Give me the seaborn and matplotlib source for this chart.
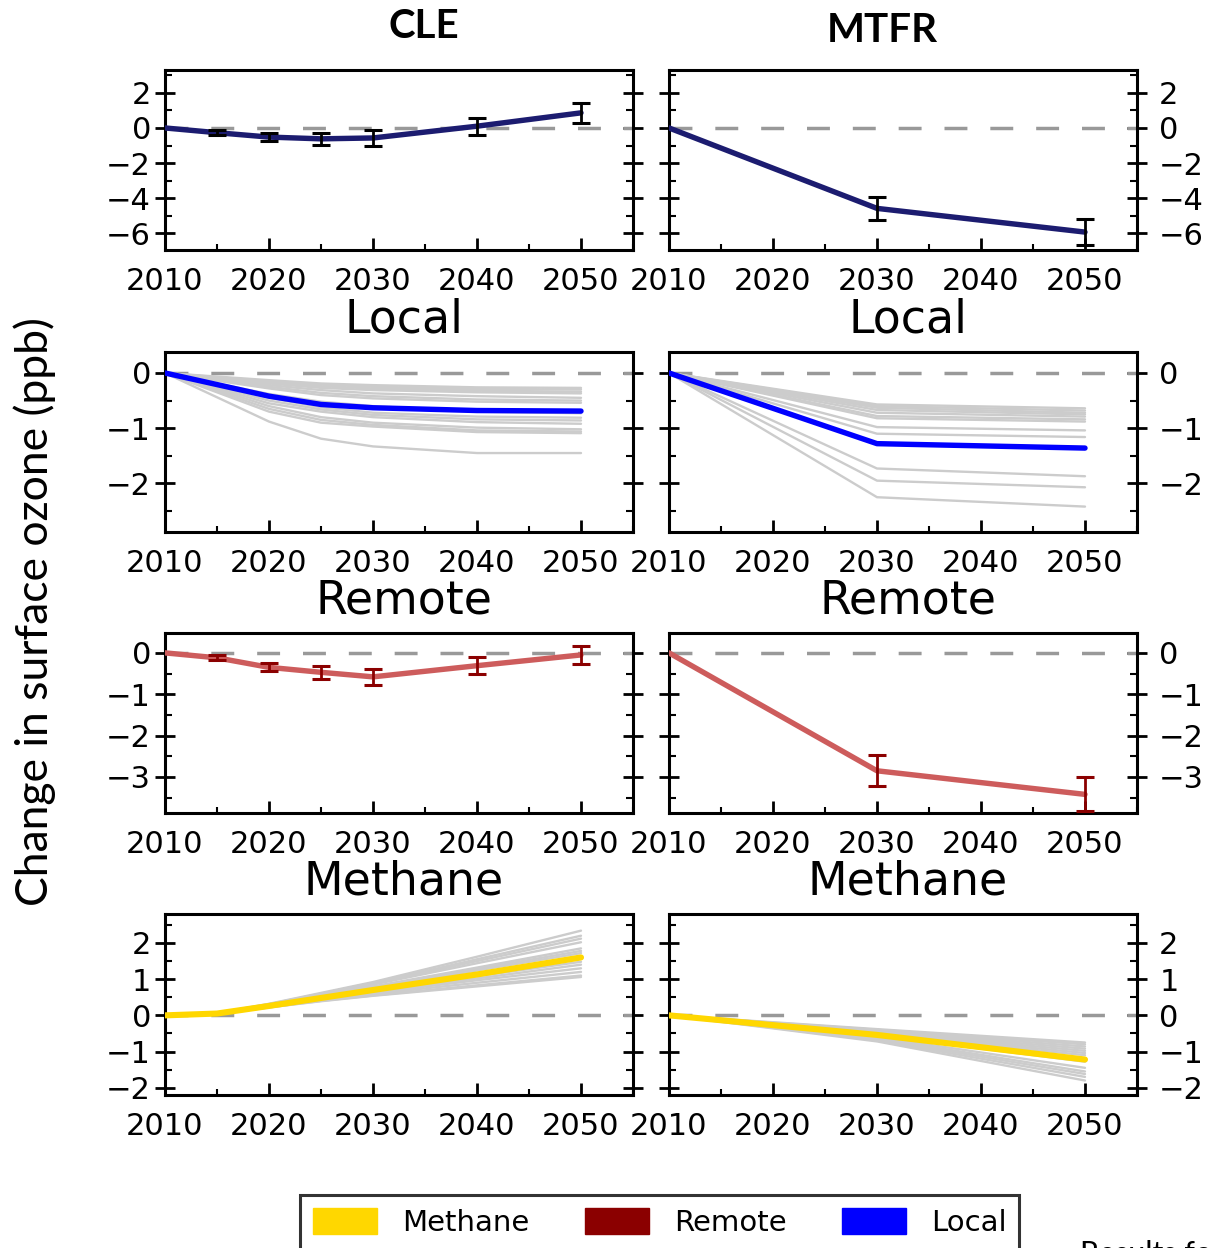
import numpy as np
import pandas as pd
import matplotlib
matplotlib.use("Agg")
import matplotlib.pyplot as plt
from matplotlib.ticker import MultipleLocator
from matplotlib.patches import Patch
import seaborn as sns

# ---------------- data ----------------
# Row 1: total change (CLE / MTFR)
cle_tot_years = [2010, 2015, 2020, 2025, 2030, 2040, 2050]
cle_tot_vals = [0.0, -0.27, -0.52, -0.62, -0.57, 0.10, 0.86]
cle_tot_err = [0.0, 0.15, 0.25, 0.36, 0.46, 0.48, 0.57]
mtfr_tot_years = [2010, 2030, 2050]
mtfr_tot_vals = [0.0, -4.58, -5.93]
mtfr_tot_err = [0.0, 0.67, 0.75]

# Row 2: Local
cle_loc_years = [2010, 2020, 2025, 2030, 2040, 2050]
cle_loc_vals = [0.0, -0.42, -0.57, -0.63, -0.68, -0.69]
cle_loc_members = [
    [0, -0.13, -0.19, -0.22, -0.26, -0.27],
    [0, -0.15, -0.21, -0.25, -0.29, -0.30],
    [0, -0.17, -0.24, -0.28, -0.32, -0.34],
    [0, -0.19, -0.27, -0.31, -0.35, -0.37],
    [0, -0.22, -0.31, -0.37, -0.42, -0.45],
    [0, -0.25, -0.36, -0.42, -0.48, -0.50],
    [0, -0.28, -0.40, -0.46, -0.52, -0.54],
    [0, -0.38, -0.52, -0.60, -0.70, -0.73],
    [0, -0.45, -0.62, -0.72, -0.79, -0.81],
    [0, -0.50, -0.66, -0.76, -0.84, -0.86],
    [0, -0.55, -0.70, -0.80, -0.89, -0.92],
    [0, -0.60, -0.80, -0.90, -0.99, -1.02],
    [0, -0.65, -0.85, -0.94, -1.04, -1.06],
    [0, -0.70, -0.90, -0.97, -1.07, -1.09],
    [0, -0.88, -1.19, -1.33, -1.45, -1.45],
]
mtfr_loc_years = [2010, 2030, 2050]
mtfr_loc_vals = [0.0, -1.28, -1.36]
mtfr_loc_members = [
    [0, -0.57, -0.64],
    [0, -0.60, -0.68],
    [0, -0.63, -0.72],
    [0, -0.67, -0.75],
    [0, -0.72, -0.79],
    [0, -0.78, -0.84],
    [0, -0.82, -0.88],
    [0, -0.98, -1.04],
    [0, -1.10, -1.16],
    [0, -1.73, -1.87],
    [0, -1.95, -2.07],
    [0, -2.25, -2.42],
]

# Row 3: Remote
cle_rem_years = [2010, 2015, 2020, 2025, 2030, 2040, 2050]
cle_rem_vals = [0.0, -0.12, -0.35, -0.47, -0.58, -0.31, -0.05]
cle_rem_err = [0.0, 0.06, 0.10, 0.15, 0.19, 0.20, 0.21]
mtfr_rem_years = [2010, 2030, 2050]
mtfr_rem_vals = [0.0, -2.85, -3.42]
mtfr_rem_err = [0.0, 0.37, 0.41]

# Row 4: Methane
cle_met_years = [2010, 2015, 2020, 2025, 2030, 2040, 2050]
cle_met_vals = [0.0, 0.05, 0.26, 0.48, 0.70, 1.13, 1.60]
cle_met_members = [
    [0, 0.06, 0.32, 0.62, 0.92, 1.62, 2.34],
    [0, 0.06, 0.31, 0.60, 0.89, 1.55, 2.20],
    [0, 0.06, 0.30, 0.58, 0.87, 1.50, 2.12],
    [0, 0.06, 0.30, 0.57, 0.85, 1.44, 2.02],
    [0, 0.05, 0.29, 0.55, 0.80, 1.32, 1.85],
    [0, 0.05, 0.28, 0.53, 0.77, 1.28, 1.78],
    [0, 0.05, 0.28, 0.52, 0.75, 1.24, 1.72],
    [0, 0.05, 0.27, 0.50, 0.71, 1.15, 1.58],
    [0, 0.05, 0.26, 0.48, 0.68, 1.08, 1.48],
    [0, 0.05, 0.25, 0.46, 0.65, 1.02, 1.40],
    [0, 0.05, 0.24, 0.44, 0.62, 0.97, 1.30],
    [0, 0.04, 0.23, 0.42, 0.59, 0.90, 1.20],
    [0, 0.04, 0.22, 0.40, 0.55, 0.83, 1.10],
    [0, 0.04, 0.22, 0.39, 0.54, 0.80, 1.06],
]
mtfr_met_years = [2010, 2030, 2050]
mtfr_met_vals = [0.0, -0.54, -1.22]
mtfr_met_members = [
    [0, -0.38, -0.75],
    [0, -0.40, -0.80],
    [0, -0.42, -0.86],
    [0, -0.44, -0.92],
    [0, -0.46, -0.98],
    [0, -0.48, -1.04],
    [0, -0.50, -1.10],
    [0, -0.53, -1.20],
    [0, -0.56, -1.28],
    [0, -0.60, -1.45],
    [0, -0.63, -1.55],
    [0, -0.66, -1.62],
    [0, -0.69, -1.70],
    [0, -0.72, -1.80],
]

column_titles = ["CLE", "MTFR"]
row_titles = [None, "Local", "Remote", "Methane"]
legend_labels = ["Methane", "Remote", "Local"]
ylabel = "Change in surface ozone (ppb)"

# ---------------- style ----------------
sns.set_style("white")
plt.rcParams["font.family"] = ["DejaVu Sans"]
plt.rcParams["axes.linewidth"] = 2.2
for k in ["text.color", "axes.labelcolor", "xtick.color", "ytick.color",
          "axes.edgecolor", "axes.titlecolor"]:
    plt.rcParams[k] = "black"

NAVY = "#1c1c70"
BLUE = "#0000ff"
RED_LINE = "#cd5c5c"
RED_ERR = "#8b0000"
GOLD = "#ffd700"
GREY = "#cccccc"
DASH = "#999999"

W, H = 1209, 1248
fig = plt.figure(figsize=(W / 100, H / 100), dpi=100)

col_x = [165, 669]
ax_w = 468
rows_y = [(70, 250), (352, 532), (633, 813), (914, 1095)]
ylims = [(-6.95, 3.3), (-2.88, 0.38), (-3.87, 0.48), (-2.2, 2.8)]
ymaj = [2, 1, 1, 1]
ymin = [1, 0.5, 0.5, 0.5]
axes = []


def make_ax(r, c):
    top, bot = rows_y[r]
    ax = fig.add_axes([col_x[c] / W, 1 - bot / H, ax_w / W, (bot - top) / H])
    ax.set_xlim(2010, 2055)
    ax.set_ylim(*ylims[r])
    ax.xaxis.set_major_locator(MultipleLocator(10))
    ax.xaxis.set_minor_locator(MultipleLocator(5))
    ax.yaxis.set_major_locator(MultipleLocator(ymaj[r]))
    ax.yaxis.set_minor_locator(MultipleLocator(ymin[r]))
    ax.tick_params(axis="x", which="major", direction="in", length=9, width=2,
                   top=False, bottom=True, labelsize=22, pad=12, colors="black")
    ax.tick_params(axis="x", which="minor", direction="in", length=4, width=1.5,
                   top=False, bottom=True)
    ax.tick_params(axis="y", which="major", direction="inout", length=14, width=2,
                   left=True, right=True, labelsize=22, pad=(3 if c == 0 else 9),
                   labelleft=(c == 0), labelright=(c == 1), colors="black")
    ax.tick_params(axis="y", which="minor", direction="in", length=5, width=1.5,
                   left=True, right=True)
    for s in ax.spines.values():
        s.set_color("black")
        s.set_linewidth(2.2)
    ax.axhline(0, color=DASH, lw=2.5, ls=(0, (6.6, 6.6)), zorder=1)
    if row_titles[r]:
        ax.set_title(row_titles[r], fontsize=33, pad=14, color="black", x=0.51)
    axes.append(ax)
    return ax


def members_df(years, members):
    rows = []
    for i, m in enumerate(members):
        for y, v in zip(years, m):
            rows.append({"year": y, "val": v, "member": i})
    return pd.DataFrame(rows)


def main_line(ax, years, vals, color, lw):
    df = pd.DataFrame({"year": years, "val": vals})
    sns.lineplot(data=df, x="year", y="val", ax=ax, color=color, lw=lw,
                 estimator=None, zorder=3, legend=False)


def grey_lines(ax, years, members):
    df = members_df(years, members)
    sns.lineplot(data=df, x="year", y="val", units="member", estimator=None,
                 ax=ax, color=GREY, lw=1.7, zorder=2, legend=False)


def errbars(ax, years, vals, err, color):
    ax.errorbar(years[1:], vals[1:], yerr=err[1:], fmt="none", ecolor=color,
                elinewidth=2, capsize=6.8, capthick=2.2, zorder=4)


# Row 1
ax = make_ax(0, 0)
main_line(ax, cle_tot_years, cle_tot_vals, NAVY, 3.9)
errbars(ax, cle_tot_years, cle_tot_vals, cle_tot_err, "black")
ax = make_ax(0, 1)
main_line(ax, mtfr_tot_years, mtfr_tot_vals, NAVY, 3.9)
errbars(ax, mtfr_tot_years, mtfr_tot_vals, mtfr_tot_err, "black")

# Row 2 Local
ax = make_ax(1, 0)
grey_lines(ax, cle_loc_years, cle_loc_members)
main_line(ax, cle_loc_years, cle_loc_vals, BLUE, 3.9)
ax = make_ax(1, 1)
grey_lines(ax, mtfr_loc_years, mtfr_loc_members)
main_line(ax, mtfr_loc_years, mtfr_loc_vals, BLUE, 3.9)

# Row 3 Remote
ax = make_ax(2, 0)
main_line(ax, cle_rem_years, cle_rem_vals, RED_LINE, 3.9)
errbars(ax, cle_rem_years, cle_rem_vals, cle_rem_err, RED_ERR)
ax = make_ax(2, 1)
main_line(ax, mtfr_rem_years, mtfr_rem_vals, RED_LINE, 3.9)
errbars(ax, mtfr_rem_years, mtfr_rem_vals, mtfr_rem_err, RED_ERR)

# Row 4 Methane
ax = make_ax(3, 0)
grey_lines(ax, cle_met_years, cle_met_members)
main_line(ax, cle_met_years, cle_met_vals, GOLD, 4.4)
ax = make_ax(3, 1)
grey_lines(ax, mtfr_met_years, mtfr_met_members)
main_line(ax, mtfr_met_years, mtfr_met_vals, GOLD, 4.4)

for ax in axes:
    ax.set_xlabel("")
    ax.set_ylabel("")
    ax.set_xlim(2010, 2055)

# Column titles and y label
fig.text(424 / W, 1 - 27 / H, column_titles[0], ha="center", va="center",
         fontsize=29, fontweight="bold", family=["Lato", "DejaVu Sans"])
fig.text(882 / W, 1 - 30 / H, column_titles[1], ha="center", va="center",
         fontsize=29, fontweight="bold", family=["Lato", "DejaVu Sans"])
fig.text(35 / W, 1 - 612 / H, ylabel, ha="center", va="center", rotation=90,
         fontsize=32, family=["Lato", "DejaVu Sans"])

# Legend
handles = [Patch(facecolor=GOLD, edgecolor=GOLD),
           Patch(facecolor=RED_ERR, edgecolor=RED_ERR),
           Patch(facecolor=BLUE, edgecolor=BLUE)]
leg = fig.legend(handles, legend_labels, loc="upper left",
                 bbox_to_anchor=(300 / W, 1 - 1195 / H), ncol=3, frameon=True,
                 fancybox=False, edgecolor="black", fontsize=21,
                 handlelength=2.2, handleheight=1.0, handletextpad=0.85,
                 columnspacing=1.9, borderpad=0.45, borderaxespad=0)
leg.get_frame().set_linewidth(2.2)

fig.text(1080 / W, 1 - 1240 / H, "Results for", ha="left", va="top",
         fontsize=22, family=["Lato", "DejaVu Sans"])

fig.savefig("out.png", dpi=100)
